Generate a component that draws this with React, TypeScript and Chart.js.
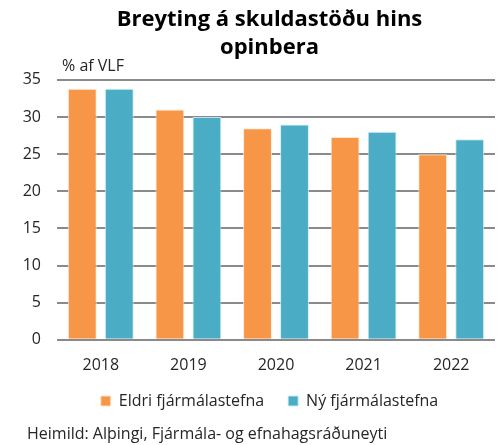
import React, { useEffect, useRef } from "react";
import { Chart, registerables } from "chart.js";

Chart.register(...registerables);

const categories = ["2018", "2019", "2020", "2021", "2022"];
const eldriValues = [33.8, 31.0, 28.5, 27.3, 25.0];
const nyValues = [33.8, 30.0, 29.0, 28.0, 27.0];
const seriesNames = ["Eldri fjármálastefna", "Ný fjármálastefna"];
const titleLines = ["Breyting á skuldastöðu hins", "opinbera"];
const unitLabel = "% af VLF";
const sourceText = "Heimild: Alþingi, Fjármála- og efnahagsráðuneyti";
const yMin = 0;
const yMax = 35;
const yStep = 5;

const FONT = "'Open Sans', sans-serif";
const ORANGE = "#F79646";
const TEAL = "#4BACC6";
const GRID = "#8a8a8a";
const TEXT = "#262626";

const extraText = {
  id: "extraText",
  afterLayout(chart: any) {
    const lg = chart.legend;
    if (lg) {
      lg.top -= 14;
      lg.bottom -= 14;
    }
  },
  afterDraw(chart: any) {
    const ctx = chart.ctx;
    const area = chart.chartArea;
    ctx.save();
    ctx.fillStyle = TEXT;
    ctx.font = `16px ${FONT}`;
    ctx.textAlign = "left";
    ctx.textBaseline = "middle";
    ctx.fillText(unitLabel, area.left + 5, area.top - 13);
    ctx.fillText(sourceText, 27, 434);
    ctx.restore();
  },
};

export default function App() {
  const ref = useRef<HTMLCanvasElement | null>(null);
  useEffect(() => {
    document.body.style.margin = "0";
    const canvas = ref.current!;
    const chart = new Chart(canvas, {
      type: "bar",
      data: {
        labels: categories,
        datasets: [
          {
            label: seriesNames[0],
            data: eldriValues,
            backgroundColor: ORANGE,
            borderColor: "rgba(255,230,210,0.9)",
            borderWidth: 1,
            categoryPercentage: 0.845,
            barPercentage: 0.78,
          },
          {
            label: seriesNames[1],
            data: nyValues,
            backgroundColor: TEAL,
            borderColor: "rgba(200,235,245,0.9)",
            borderWidth: 1,
            categoryPercentage: 0.845,
            barPercentage: 0.78,
          },
        ],
      },
      options: {
        responsive: false,
        animation: false,
        layout: { padding: { top: 0, bottom: 12, left: 0, right: 0 } },
        plugins: {
          title: {
            display: true,
            text: titleLines,
            color: "#000",
            font: { family: FONT, size: 22, weight: "bold", lineHeight: 1.27 },
            padding: { top: 6, bottom: 18 },
          },
          legend: {
            display: true,
            position: "bottom",
            labels: {
              boxWidth: 10,
              boxHeight: 10,
              padding: 24,
              color: TEXT,
              font: { family: FONT, size: 16 },
            },
          },
          tooltip: { enabled: false },
        },
        scales: {
          x: {
            grid: { display: false },
            border: { display: false },
            ticks: { color: TEXT, font: { family: FONT, size: 16 }, padding: 8 },
          },
          y: {
            min: yMin,
            max: yMax,
            position: "left",
            ticks: { stepSize: yStep, color: TEXT, font: { family: FONT, size: 16 }, padding: 16 },
            grid: { color: GRID, lineWidth: 2, drawTicks: false },
            border: { display: false },
            afterFit(scale: any) {
              scale.width = 57;
            },
          },
          spacer: {
            type: "linear",
            position: "right",
            display: true,
            ticks: { display: false },
            grid: { display: false, drawTicks: false },
            border: { display: false },
            afterFit(scale: any) {
              scale.width = 44;
            },
          },
        },
      },
      plugins: [extraText],
    } as any);
    return () => chart.destroy();
  }, []);
  return (
    <div style={{ position: "fixed", left: 0, top: 0, width: 501, height: 445, overflow: "hidden", background: "#fff" }}>
      <canvas ref={ref} width={539} height={445} style={{ display: "block" }} />
    </div>
  );
}
